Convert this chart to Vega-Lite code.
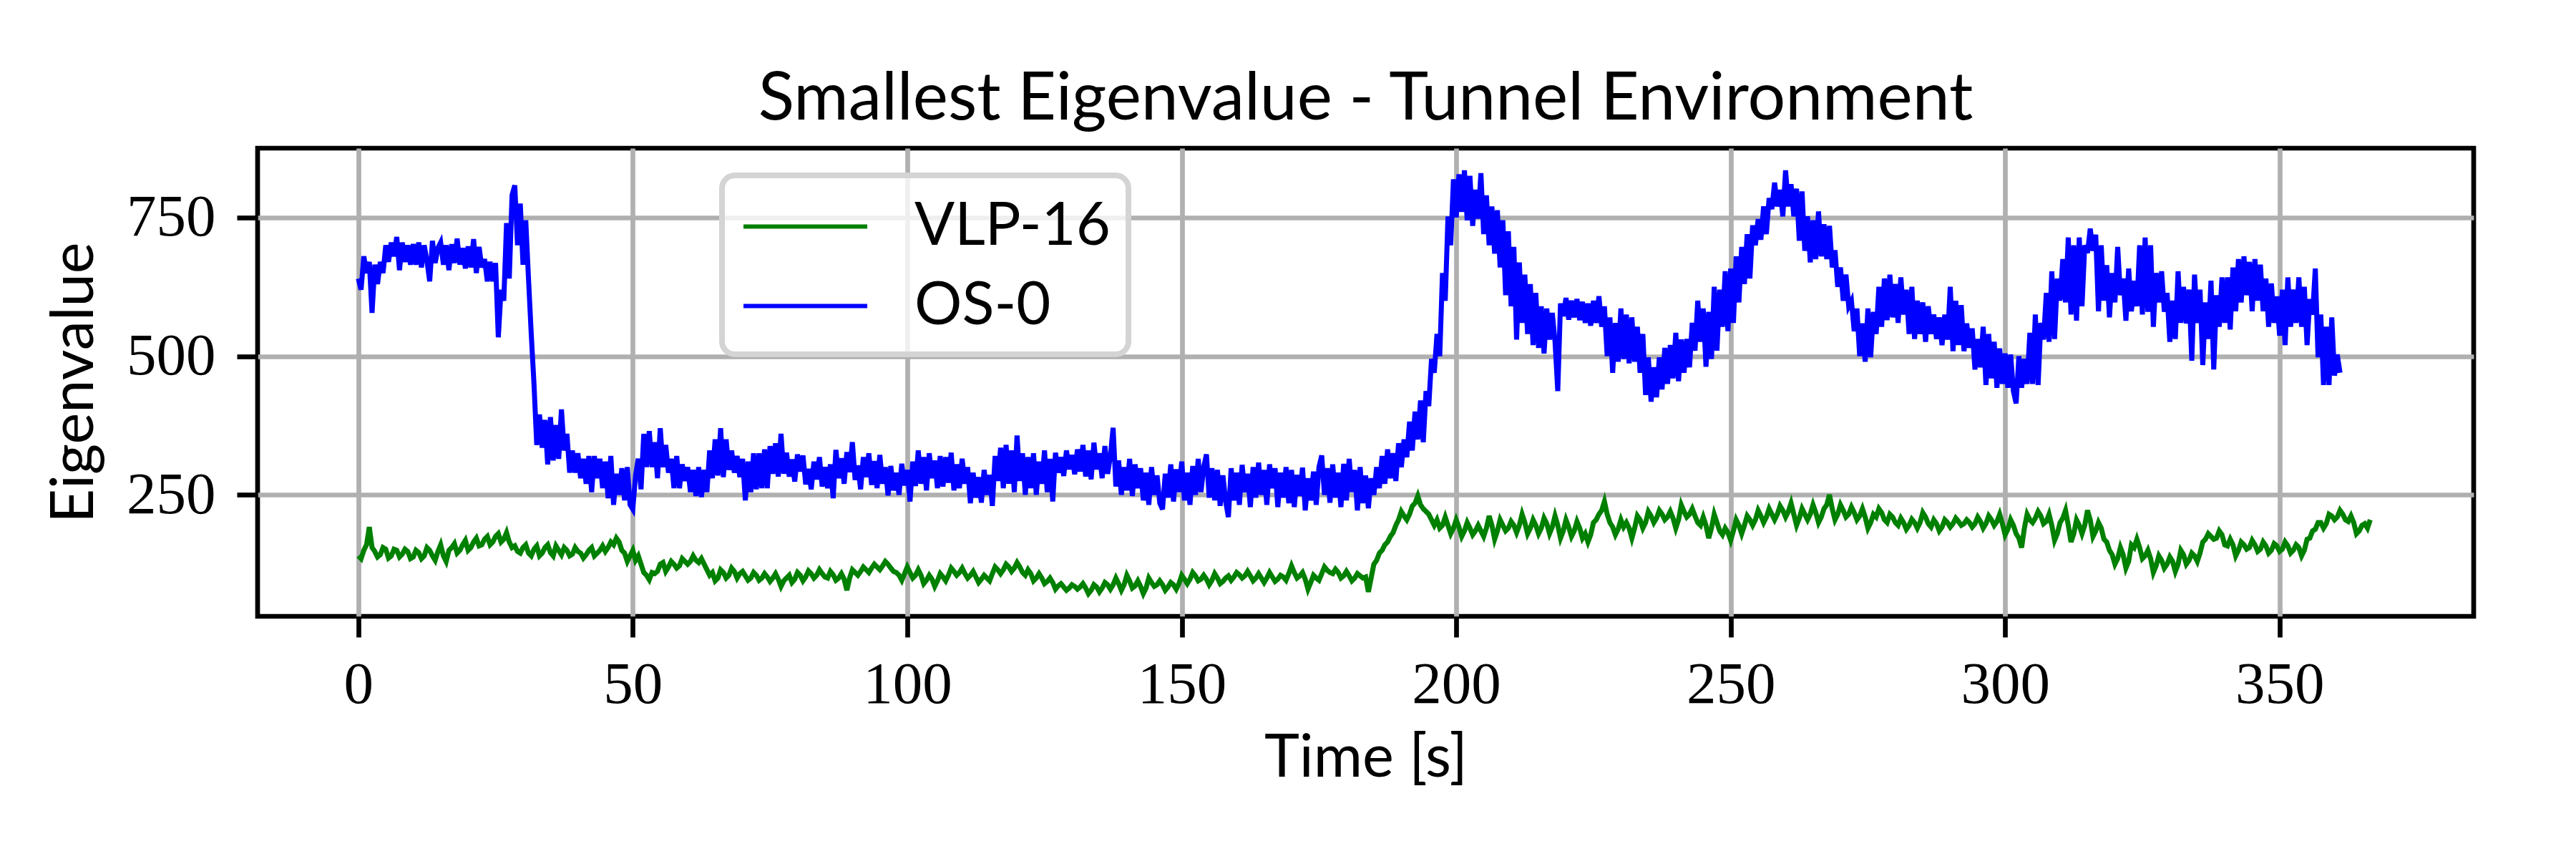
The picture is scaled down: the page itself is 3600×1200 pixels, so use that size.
{
"$schema":"https://vega.github.io/schema/vega-lite/v6.json",
"width":3097,"height":654,
"autosize":{"type":"none"},
"padding":{"left":360,"top":207,"right":143,"bottom":339},
"background":"white",
"config":{"view":{"stroke":"black","strokeWidth":6.7},"legend":{"strokeWidth":8}},
"title":{"text":"Smallest Eigenvalue - Tunnel Environment","font":"Lato","fontSize":93,"fontWeight":"normal","color":"black","anchor":"middle","frame":"group","baseline":"alphabetic","offset":-53},
"data":{"values":[
{"t":0,"b":640,"g":140},{"t":0.5,"b":620,"g":135},{"t":1,"b":680,"g":150},{"t":1.5,"b":650,"g":160},{"t":2,"b":670,"g":192},{"t":2.5,"b":578,"g":155},{"t":3,"b":665,"g":148},{"t":3.5,"b":630,"g":138},{"t":4,"b":670,"g":142},{"t":4.5,"b":650,"g":155},{"t":5,"b":700,"g":152},{"t":5.5,"b":670,"g":136},{"t":6,"b":705,"g":140},{"t":6.5,"b":680,"g":152},{"t":7,"b":715,"g":150},{"t":7.5,"b":655,"g":138},{"t":8,"b":705,"g":143},{"t":8.5,"b":670,"g":152},{"t":9,"b":700,"g":148},{"t":9.5,"b":665,"g":135},
{"t":10,"b":702,"g":138},{"t":10.5,"b":665,"g":150},{"t":11,"b":705,"g":146},{"t":11.5,"b":660,"g":135},{"t":12,"b":700,"g":140},{"t":12.5,"b":672,"g":155},{"t":13,"b":635,"g":150},{"t":13.5,"b":708,"g":140},{"t":14,"b":668,"g":132},{"t":14.5,"b":695,"g":148},{"t":15,"b":705,"g":160},{"t":15.5,"b":665,"g":140},{"t":16,"b":700,"g":130},{"t":16.5,"b":655,"g":150},{"t":17,"b":702,"g":155},{"t":17.5,"b":668,"g":162},{"t":18,"b":712,"g":145},{"t":18.5,"b":665,"g":150},{"t":19,"b":695,"g":160},{"t":19.5,"b":658,"g":168},
{"t":20,"b":698,"g":150},{"t":20.5,"b":660,"g":155},{"t":21,"b":711,"g":165},{"t":21.5,"b":650,"g":172},{"t":22,"b":697,"g":158},{"t":22.5,"b":660,"g":160},{"t":23,"b":675,"g":170},{"t":23.5,"b":635,"g":175},{"t":24,"b":670,"g":160},{"t":24.5,"b":635,"g":165},{"t":25,"b":668,"g":175},{"t":25.5,"b":534,"g":180},{"t":26,"b":620,"g":165},{"t":26.5,"b":600,"g":170},{"t":27,"b":740,"g":182},{"t":27.5,"b":640,"g":165},{"t":28,"b":790,"g":155},{"t":28.5,"b":808,"g":158},{"t":29,"b":700,"g":148},{"t":29.5,"b":775,"g":145},
{"t":30,"b":665,"g":155},{"t":30.5,"b":745,"g":160},{"t":31,"b":640,"g":145},{"t":31.5,"b":540,"g":140},{"t":32,"b":450,"g":152},{"t":32.5,"b":340,"g":158},{"t":33,"b":395,"g":140},{"t":33.5,"b":335,"g":145},{"t":34,"b":385,"g":155},{"t":34.5,"b":305,"g":160},{"t":35,"b":390,"g":146},{"t":35.5,"b":312,"g":140},{"t":36,"b":376,"g":158},{"t":36.5,"b":315,"g":150},{"t":37,"b":404,"g":142},{"t":37.5,"b":330,"g":155},{"t":38,"b":360,"g":150},{"t":38.5,"b":290,"g":140},{"t":39,"b":330,"g":143},{"t":39.5,"b":290,"g":155},
{"t":40,"b":325,"g":148},{"t":40.5,"b":280,"g":145},{"t":41,"b":315,"g":136},{"t":41.5,"b":270,"g":142},{"t":42,"b":320,"g":150},{"t":42.5,"b":255,"g":155},{"t":43,"b":320,"g":140},{"t":43.5,"b":280,"g":145},{"t":44,"b":315,"g":150},{"t":44.5,"b":262,"g":158},{"t":45,"b":310,"g":148},{"t":45.5,"b":244,"g":155},{"t":46,"b":320,"g":165},{"t":46.5,"b":232,"g":160},{"t":47,"b":288,"g":172},{"t":47.5,"b":250,"g":165},{"t":48,"b":298,"g":150},{"t":48.5,"b":240,"g":145},{"t":49,"b":300,"g":130},{"t":49.5,"b":232,"g":140},
{"t":50,"b":224,"g":150},{"t":50.5,"b":285,"g":132},{"t":51,"b":315,"g":140},{"t":51.5,"b":260,"g":125},{"t":52,"b":360,"g":110},{"t":52.5,"b":300,"g":105},{"t":53,"b":365,"g":97},{"t":53.5,"b":300,"g":110},{"t":54,"b":345,"g":108},{"t":54.5,"b":280,"g":112},{"t":55,"b":370,"g":125},{"t":55.5,"b":300,"g":128},{"t":56,"b":340,"g":112},{"t":56.5,"b":290,"g":120},{"t":57,"b":315,"g":130},{"t":57.5,"b":262,"g":125},{"t":58,"b":320,"g":118},{"t":58.5,"b":262,"g":122},{"t":59,"b":305,"g":135},{"t":59.5,"b":275,"g":130},
{"t":60,"b":300,"g":125},{"t":60.5,"b":255,"g":130},{"t":61,"b":295,"g":140},{"t":61.5,"b":248,"g":132},{"t":62,"b":300,"g":128},{"t":62.5,"b":246,"g":135},{"t":63,"b":295,"g":125},{"t":63.5,"b":255,"g":115},{"t":64,"b":330,"g":105},{"t":64.5,"b":280,"g":110},{"t":65,"b":350,"g":95},{"t":65.5,"b":285,"g":100},{"t":66,"b":370,"g":115},{"t":66.5,"b":282,"g":110},{"t":67,"b":350,"g":100},{"t":67.5,"b":295,"g":105},{"t":68,"b":330,"g":118},{"t":68.5,"b":290,"g":112},{"t":69,"b":320,"g":100},{"t":69.5,"b":282,"g":108},
{"t":70,"b":315,"g":112},{"t":70.5,"b":240,"g":104},{"t":71,"b":310,"g":96},{"t":71.5,"b":255,"g":100},{"t":72,"b":325,"g":110},{"t":72.5,"b":260,"g":105},{"t":73,"b":325,"g":96},{"t":73.5,"b":262,"g":100},{"t":74,"b":332,"g":108},{"t":74.5,"b":262,"g":102},{"t":75,"b":338,"g":94},{"t":75.5,"b":288,"g":100},{"t":76,"b":343,"g":108},{"t":76.5,"b":283,"g":98},{"t":77,"b":360,"g":85},{"t":77.5,"b":288,"g":95},{"t":78,"b":326,"g":100},{"t":78.5,"b":283,"g":105},{"t":79,"b":314,"g":92},{"t":79.5,"b":274,"g":98},
{"t":80,"b":323,"g":110},{"t":80.5,"b":292,"g":105},{"t":81,"b":321,"g":95},{"t":81.5,"b":269,"g":102},{"t":82,"b":297,"g":113},{"t":82.5,"b":260,"g":108},{"t":83,"b":310,"g":100},{"t":83.5,"b":278,"g":105},{"t":84,"b":318,"g":115},{"t":84.5,"b":265,"g":108},{"t":85,"b":300,"g":102},{"t":85.5,"b":262,"g":100},{"t":86,"b":305,"g":112},{"t":86.5,"b":244,"g":106},{"t":87,"b":331,"g":96},{"t":87.5,"b":280,"g":100},{"t":88,"b":316,"g":108},{"t":88.5,"b":270,"g":98},{"t":89,"b":327,"g":78},{"t":89.5,"b":291,"g":100},
{"t":90,"b":345,"g":115},{"t":90.5,"b":277,"g":110},{"t":91,"b":303,"g":105},{"t":91.5,"b":260,"g":112},{"t":92,"b":318,"g":120},{"t":92.5,"b":282,"g":115},{"t":93,"b":325,"g":110},{"t":93.5,"b":268,"g":118},{"t":94,"b":311,"g":125},{"t":94.5,"b":262,"g":120},{"t":95,"b":322,"g":115},{"t":95.5,"b":270,"g":122},{"t":96,"b":300,"g":130},{"t":96.5,"b":249,"g":125},{"t":97,"b":302,"g":118},{"t":97.5,"b":258,"g":112},{"t":98,"b":290,"g":110},{"t":98.5,"b":250,"g":105},{"t":99,"b":306,"g":96},{"t":99.5,"b":267,"g":108},
{"t":100,"b":295,"g":120},{"t":100.5,"b":238,"g":110},{"t":101,"b":310,"g":100},{"t":101.5,"b":266,"g":105},{"t":102,"b":330,"g":115},{"t":102.5,"b":270,"g":105},{"t":103,"b":318,"g":90},{"t":103.5,"b":258,"g":96},{"t":104,"b":325,"g":105},{"t":104.5,"b":280,"g":98},{"t":105,"b":312,"g":85},{"t":105.5,"b":262,"g":95},{"t":106,"b":320,"g":108},{"t":106.5,"b":265,"g":102},{"t":107,"b":318,"g":95},{"t":107.5,"b":272,"g":105},{"t":108,"b":326,"g":118},{"t":108.5,"b":258,"g":112},{"t":109,"b":305,"g":105},{"t":109.5,"b":262,"g":110},
{"t":110,"b":315,"g":118},{"t":110.5,"b":270,"g":108},{"t":111,"b":300,"g":100},{"t":111.5,"b":235,"g":105},{"t":112,"b":290,"g":112},{"t":112.5,"b":245,"g":102},{"t":113,"b":282,"g":92},{"t":113.5,"b":236,"g":98},{"t":114,"b":295,"g":105},{"t":114.5,"b":250,"g":100},{"t":115,"b":286,"g":95},{"t":115.5,"b":230,"g":108},{"t":116,"b":320,"g":120},{"t":116.5,"b":275,"g":115},{"t":117,"b":335,"g":108},{"t":117.5,"b":262,"g":115},{"t":118,"b":340,"g":125},{"t":118.5,"b":270,"g":120},{"t":119,"b":330,"g":112},{"t":119.5,"b":255,"g":118},
{"t":120,"b":357,"g":128},{"t":120.5,"b":275,"g":120},{"t":121,"b":325,"g":110},{"t":121.5,"b":250,"g":105},{"t":122,"b":318,"g":115},{"t":122.5,"b":262,"g":108},{"t":123,"b":325,"g":95},{"t":123.5,"b":250,"g":100},{"t":124,"b":310,"g":108},{"t":124.5,"b":270,"g":100},{"t":125,"b":330,"g":90},{"t":125.5,"b":255,"g":94},{"t":126,"b":315,"g":100},{"t":126.5,"b":238,"g":92},{"t":127,"b":326,"g":80},{"t":127.5,"b":290,"g":86},{"t":128,"b":318,"g":90},{"t":128.5,"b":284,"g":84},{"t":129,"b":330,"g":78},{"t":129.5,"b":296,"g":82},
{"t":130,"b":322,"g":88},{"t":130.5,"b":287,"g":85},{"t":131,"b":332,"g":80},{"t":131.5,"b":292,"g":84},{"t":132,"b":340,"g":90},{"t":132.5,"b":283,"g":82},{"t":133,"b":330,"g":72},{"t":133.5,"b":278,"g":78},{"t":134,"b":344,"g":88},{"t":134.5,"b":296,"g":84},{"t":135,"b":325,"g":75},{"t":135.5,"b":280,"g":82},{"t":136,"b":338,"g":92},{"t":136.5,"b":288,"g":88},{"t":137,"b":320,"g":80},{"t":137.5,"b":371,"g":88},{"t":138,"b":265,"g":100},{"t":138.5,"b":312,"g":90},{"t":139,"b":250,"g":78},{"t":139.5,"b":300,"g":88},
{"t":140,"b":258,"g":105},{"t":140.5,"b":315,"g":95},{"t":141,"b":248,"g":82},{"t":141.5,"b":305,"g":86},{"t":142,"b":262,"g":95},{"t":142.5,"b":298,"g":85},{"t":143,"b":240,"g":72},{"t":143.5,"b":290,"g":82},{"t":144,"b":232,"g":100},{"t":144.5,"b":300,"g":92},{"t":145,"b":250,"g":85},{"t":145.5,"b":285,"g":88},{"t":146,"b":235,"g":95},{"t":146.5,"b":224,"g":88},{"t":147,"b":288,"g":78},{"t":147.5,"b":245,"g":84},{"t":148,"b":305,"g":92},{"t":148.5,"b":238,"g":88},{"t":149,"b":296,"g":80},{"t":149.5,"b":255,"g":90},
{"t":150,"b":310,"g":105},{"t":150.5,"b":240,"g":98},{"t":151,"b":290,"g":90},{"t":151.5,"b":232,"g":98},{"t":152,"b":302,"g":110},{"t":152.5,"b":250,"g":104},{"t":153,"b":315,"g":95},{"t":153.5,"b":255,"g":98},{"t":154,"b":300,"g":105},{"t":154.5,"b":323,"g":98},{"t":155,"b":245,"g":88},{"t":155.5,"b":298,"g":96},{"t":156,"b":240,"g":108},{"t":156.5,"b":295,"g":100},{"t":157,"b":230,"g":90},{"t":157.5,"b":285,"g":94},{"t":158,"b":238,"g":100},{"t":158.5,"b":210,"g":104},{"t":159,"b":298,"g":96},{"t":159.5,"b":240,"g":102},
{"t":160,"b":290,"g":110},{"t":160.5,"b":232,"g":106},{"t":161,"b":304,"g":100},{"t":161.5,"b":255,"g":104},{"t":162,"b":288,"g":112},{"t":162.5,"b":228,"g":104},{"t":163,"b":300,"g":95},{"t":163.5,"b":245,"g":100},{"t":164,"b":308,"g":108},{"t":164.5,"b":250,"g":100},{"t":165,"b":295,"g":92},{"t":165.5,"b":232,"g":100},{"t":166,"b":305,"g":110},{"t":166.5,"b":262,"g":102},{"t":167,"b":298,"g":94},{"t":167.5,"b":228,"g":98},{"t":168,"b":290,"g":105},{"t":168.5,"b":245,"g":102},{"t":169,"b":300,"g":96},{"t":169.5,"b":235,"g":108},
{"t":170,"b":295,"g":122},{"t":170.5,"b":228,"g":110},{"t":171,"b":286,"g":100},{"t":171.5,"b":248,"g":104},{"t":172,"b":299,"g":110},{"t":172.5,"b":222,"g":98},{"t":173,"b":280,"g":80},{"t":173.5,"b":240,"g":92},{"t":174,"b":292,"g":105},{"t":174.5,"b":232,"g":100},{"t":175,"b":300,"g":96},{"t":175.5,"b":321,"g":108},{"t":176,"b":250,"g":120},{"t":176.5,"b":298,"g":114},{"t":177,"b":236,"g":110},{"t":177.5,"b":305,"g":108},{"t":178,"b":245,"g":116},{"t":178.5,"b":290,"g":110},{"t":179,"b":228,"g":100},{"t":179.5,"b":306,"g":104},
{"t":180,"b":240,"g":112},{"t":180.5,"b":315,"g":104},{"t":181,"b":255,"g":95},{"t":181.5,"b":295,"g":100},{"t":182,"b":222,"g":108},{"t":182.5,"b":300,"g":104},{"t":183,"b":235,"g":100},{"t":183.5,"b":285,"g":102},{"t":184,"b":226,"g":75},{"t":184.5,"b":280,"g":100},{"t":185,"b":250,"g":125},{"t":185.5,"b":300,"g":132},{"t":186,"b":262,"g":145},{"t":186.5,"b":320,"g":150},{"t":187,"b":270,"g":160},{"t":187.5,"b":332,"g":165},{"t":188,"b":280,"g":175},{"t":188.5,"b":325,"g":182},{"t":189,"b":275,"g":195},{"t":189.5,"b":343,"g":205},
{"t":190,"b":300,"g":220},{"t":190.5,"b":350,"g":212},{"t":191,"b":318,"g":205},{"t":191.5,"b":382,"g":215},{"t":192,"b":330,"g":230},{"t":192.5,"b":400,"g":235},{"t":193,"b":350,"g":248},{"t":193.5,"b":420,"g":232},{"t":194,"b":345,"g":225},{"t":194.5,"b":437,"g":220},{"t":195,"b":410,"g":215},{"t":195.5,"b":495,"g":205},{"t":196,"b":470,"g":195},{"t":196.5,"b":540,"g":205},{"t":197,"b":500,"g":190},{"t":197.5,"b":650,"g":195},{"t":198,"b":600,"g":210},{"t":198.5,"b":752,"g":195},{"t":199,"b":700,"g":180},{"t":199.5,"b":819,"g":190},
{"t":200,"b":750,"g":205},{"t":200.5,"b":828,"g":192},{"t":201,"b":760,"g":175},{"t":201.5,"b":835,"g":185},{"t":202,"b":745,"g":200},{"t":202.5,"b":825,"g":190},{"t":203,"b":735,"g":178},{"t":203.5,"b":800,"g":185},{"t":204,"b":748,"g":195},{"t":204.5,"b":830,"g":185},{"t":205,"b":720,"g":175},{"t":205.5,"b":790,"g":190},{"t":206,"b":700,"g":212},{"t":206.5,"b":770,"g":195},{"t":207,"b":685,"g":170},{"t":207.5,"b":763,"g":185},{"t":208,"b":660,"g":205},{"t":208.5,"b":745,"g":195},{"t":209,"b":610,"g":185},{"t":209.5,"b":725,"g":190},
{"t":210,"b":590,"g":202},{"t":210.5,"b":697,"g":195},{"t":211,"b":530,"g":182},{"t":211.5,"b":669,"g":195},{"t":212,"b":560,"g":215},{"t":212.5,"b":647,"g":200},{"t":213,"b":540,"g":180},{"t":213.5,"b":630,"g":190},{"t":214,"b":520,"g":205},{"t":214.5,"b":614,"g":195},{"t":215,"b":515,"g":180},{"t":215.5,"b":590,"g":190},{"t":216,"b":505,"g":208},{"t":216.5,"b":586,"g":198},{"t":217,"b":530,"g":180},{"t":217.5,"b":578,"g":192},{"t":218,"b":526,"g":212},{"t":218.5,"b":437,"g":195},{"t":219,"b":595,"g":172},{"t":219.5,"b":572,"g":185},
{"t":220,"b":605,"g":205},{"t":220.5,"b":566,"g":192},{"t":221,"b":600,"g":175},{"t":221.5,"b":570,"g":185},{"t":222,"b":603,"g":202},{"t":222.5,"b":565,"g":190},{"t":223,"b":598,"g":172},{"t":223.5,"b":560,"g":180},{"t":224,"b":595,"g":165},{"t":224.5,"b":555,"g":178},{"t":225,"b":600,"g":200},{"t":225.5,"b":560,"g":205},{"t":226,"b":608,"g":215},{"t":226.5,"b":553,"g":222},{"t":227,"b":590,"g":238},{"t":227.5,"b":500,"g":215},{"t":228,"b":570,"g":200},{"t":228.5,"b":470,"g":192},{"t":229,"b":560,"g":178},{"t":229.5,"b":490,"g":188},
{"t":230,"b":586,"g":205},{"t":230.5,"b":495,"g":192},{"t":231,"b":575,"g":200},{"t":231.5,"b":487,"g":190},{"t":232,"b":570,"g":172},{"t":232.5,"b":490,"g":190},{"t":233,"b":553,"g":212},{"t":233.5,"b":470,"g":205},{"t":234,"b":540,"g":190},{"t":234.5,"b":430,"g":200},{"t":235,"b":498,"g":220},{"t":235.5,"b":418,"g":212},{"t":236,"b":480,"g":200},{"t":236.5,"b":426,"g":208},{"t":237,"b":498,"g":222},{"t":237.5,"b":440,"g":215},{"t":238,"b":515,"g":205},{"t":238.5,"b":450,"g":210},{"t":239,"b":520,"g":220},{"t":239.5,"b":460,"g":208},
{"t":240,"b":542,"g":190},{"t":240.5,"b":455,"g":205},{"t":241,"b":530,"g":232},{"t":241.5,"b":470,"g":220},{"t":242,"b":531,"g":210},{"t":242.5,"b":480,"g":215},{"t":243,"b":560,"g":225},{"t":243.5,"b":510,"g":212},{"t":244,"b":600,"g":200},{"t":244.5,"b":526,"g":195},{"t":245,"b":586,"g":210},{"t":245.5,"b":481,"g":195},{"t":246,"b":580,"g":172},{"t":246.5,"b":495,"g":190},{"t":247,"b":625,"g":215},{"t":247.5,"b":510,"g":200},{"t":248,"b":620,"g":185},{"t":248.5,"b":553,"g":178},{"t":249,"b":653,"g":190},{"t":249.5,"b":545,"g":182},
{"t":250,"b":658,"g":168},{"t":250.5,"b":560,"g":185},{"t":251,"b":680,"g":205},{"t":251.5,"b":597,"g":195},{"t":252,"b":697,"g":180},{"t":252.5,"b":630,"g":195},{"t":253,"b":720,"g":212},{"t":253.5,"b":640,"g":205},{"t":254,"b":736,"g":195},{"t":254.5,"b":700,"g":205},{"t":255,"b":747,"g":222},{"t":255.5,"b":710,"g":212},{"t":256,"b":770,"g":200},{"t":256.5,"b":720,"g":210},{"t":257,"b":785,"g":225},{"t":257.5,"b":765,"g":215},{"t":258,"b":813,"g":205},{"t":258.5,"b":770,"g":215},{"t":259,"b":800,"g":230},{"t":259.5,"b":752,"g":222},
{"t":260,"b":835,"g":210},{"t":260.5,"b":770,"g":220},{"t":261,"b":810,"g":235},{"t":261.5,"b":752,"g":215},{"t":262,"b":802,"g":195},{"t":262.5,"b":708,"g":208},{"t":263,"b":797,"g":225},{"t":263.5,"b":690,"g":215},{"t":264,"b":752,"g":205},{"t":264.5,"b":669,"g":215},{"t":265,"b":745,"g":232},{"t":265.5,"b":675,"g":218},{"t":266,"b":761,"g":200},{"t":266.5,"b":680,"g":210},{"t":267,"b":738,"g":225},{"t":267.5,"b":675,"g":232},{"t":268,"b":735,"g":250},{"t":268.5,"b":660,"g":225},{"t":269,"b":691,"g":205},{"t":269.5,"b":625,"g":215},
{"t":270,"b":660,"g":232},{"t":270.5,"b":600,"g":222},{"t":271,"b":647,"g":210},{"t":271.5,"b":590,"g":215},{"t":272,"b":600,"g":228},{"t":272.5,"b":545,"g":218},{"t":273,"b":586,"g":205},{"t":273.5,"b":500,"g":212},{"t":274,"b":559,"g":225},{"t":274.5,"b":490,"g":210},{"t":275,"b":586,"g":190},{"t":275.5,"b":498,"g":200},{"t":276,"b":580,"g":215},{"t":276.5,"b":540,"g":210},{"t":277,"b":625,"g":225},{"t":277.5,"b":553,"g":218},{"t":278,"b":640,"g":205},{"t":278.5,"b":565,"g":200},{"t":279,"b":647,"g":215},{"t":279.5,"b":570,"g":210},
{"t":280,"b":630,"g":200},{"t":280.5,"b":560,"g":195},{"t":281,"b":642,"g":208},{"t":281.5,"b":575,"g":200},{"t":282,"b":620,"g":188},{"t":282.5,"b":540,"g":195},{"t":283,"b":625,"g":206},{"t":283.5,"b":531,"g":200},{"t":284,"b":600,"g":190},{"t":284.5,"b":540,"g":200},{"t":285,"b":597,"g":218},{"t":285.5,"b":526,"g":210},{"t":286,"b":590,"g":198},{"t":286.5,"b":540,"g":192},{"t":287,"b":575,"g":205},{"t":287.5,"b":531,"g":198},{"t":288,"b":570,"g":185},{"t":288.5,"b":520,"g":192},{"t":289,"b":575,"g":205},{"t":289.5,"b":530,"g":200},
{"t":290,"b":625,"g":192},{"t":290.5,"b":509,"g":198},{"t":291,"b":600,"g":208},{"t":291.5,"b":520,"g":202},{"t":292,"b":592,"g":195},{"t":292.5,"b":509,"g":198},{"t":293,"b":559,"g":205},{"t":293.5,"b":515,"g":200},{"t":294,"b":550,"g":192},{"t":294.5,"b":476,"g":198},{"t":295,"b":531,"g":210},{"t":295.5,"b":480,"g":202},{"t":296,"b":553,"g":190},{"t":296.5,"b":448,"g":198},{"t":297,"b":540,"g":212},{"t":297.5,"b":460,"g":205},{"t":298,"b":526,"g":195},{"t":298.5,"b":443,"g":202},{"t":299,"b":514,"g":215},{"t":299.5,"b":450,"g":198},
{"t":300,"b":505,"g":178},{"t":300.5,"b":443,"g":188},{"t":301,"b":503,"g":205},{"t":301.5,"b":437,"g":195},{"t":302,"b":415,"g":180},{"t":302.5,"b":500,"g":172},{"t":303,"b":443,"g":155},{"t":303.5,"b":495,"g":190},{"t":304,"b":450,"g":215},{"t":304.5,"b":542,"g":205},{"t":305,"b":450,"g":200},{"t":305.5,"b":575,"g":208},{"t":306,"b":448,"g":220},{"t":306.5,"b":560,"g":212},{"t":307,"b":530,"g":198},{"t":307.5,"b":614,"g":202},{"t":308,"b":526,"g":215},{"t":308.5,"b":653,"g":195},{"t":309,"b":531,"g":168},{"t":309.5,"b":640,"g":180},
{"t":310,"b":600,"g":200},{"t":310.5,"b":675,"g":208},{"t":311,"b":597,"g":222},{"t":311.5,"b":714,"g":195},{"t":312,"b":575,"g":165},{"t":312.5,"b":700,"g":180},{"t":313,"b":564,"g":205},{"t":313.5,"b":714,"g":195},{"t":314,"b":590,"g":180},{"t":314.5,"b":700,"g":195},{"t":315,"b":686,"g":222},{"t":315.5,"b":730,"g":205},{"t":316,"b":690,"g":175},{"t":316.5,"b":719,"g":185},{"t":317,"b":581,"g":200},{"t":317.5,"b":700,"g":190},{"t":318,"b":600,"g":170},{"t":318.5,"b":664,"g":165},{"t":319,"b":570,"g":150},{"t":319.5,"b":650,"g":142},
{"t":320,"b":597,"g":125},{"t":320.5,"b":697,"g":135},{"t":321,"b":610,"g":155},{"t":321.5,"b":640,"g":142},{"t":322,"b":564,"g":118},{"t":322.5,"b":658,"g":130},{"t":323,"b":581,"g":160},{"t":323.5,"b":636,"g":155},{"t":324,"b":590,"g":170},{"t":324.5,"b":700,"g":155},{"t":325,"b":575,"g":135},{"t":325.5,"b":714,"g":140},{"t":326,"b":580,"g":150},{"t":326.5,"b":700,"g":135},{"t":327,"b":553,"g":110},{"t":327.5,"b":650,"g":122},{"t":328,"b":597,"g":140},{"t":328.5,"b":653,"g":132},{"t":329,"b":580,"g":118},{"t":329.5,"b":614,"g":125},
{"t":330,"b":526,"g":138},{"t":330.5,"b":600,"g":130},{"t":331,"b":531,"g":112},{"t":331.5,"b":653,"g":125},{"t":332,"b":560,"g":150},{"t":332.5,"b":625,"g":142},{"t":333,"b":559,"g":125},{"t":333.5,"b":620,"g":132},{"t":334,"b":492,"g":145},{"t":334.5,"b":647,"g":140},{"t":335,"b":560,"g":130},{"t":335.5,"b":620,"g":145},{"t":336,"b":484,"g":165},{"t":336.5,"b":597,"g":170},{"t":337,"b":531,"g":180},{"t":337.5,"b":636,"g":175},{"t":338,"b":476,"g":170},{"t":338.5,"b":610,"g":172},{"t":339,"b":553,"g":185},{"t":339.5,"b":642,"g":178},
{"t":340,"b":560,"g":160},{"t":340.5,"b":642,"g":158},{"t":341,"b":548,"g":170},{"t":341.5,"b":660,"g":160},{"t":342,"b":581,"g":140},{"t":342.5,"b":675,"g":150},{"t":343,"b":597,"g":165},{"t":343.5,"b":680,"g":160},{"t":344,"b":610,"g":152},{"t":344.5,"b":670,"g":155},{"t":345,"b":581,"g":168},{"t":345.5,"b":675,"g":160},{"t":346,"b":600,"g":148},{"t":346.5,"b":665,"g":152},{"t":347,"b":581,"g":165},{"t":347.5,"b":640,"g":158},{"t":348,"b":553,"g":145},{"t":348.5,"b":631,"g":150},{"t":349,"b":560,"g":162},{"t":349.5,"b":608,"g":158},
{"t":350,"b":537,"g":148},{"t":350.5,"b":620,"g":152},{"t":351,"b":520,"g":165},{"t":351.5,"b":642,"g":158},{"t":352,"b":553,"g":145},{"t":352.5,"b":620,"g":150},{"t":353,"b":560,"g":160},{"t":353.5,"b":642,"g":155},{"t":354,"b":553,"g":140},{"t":354.5,"b":625,"g":150},{"t":355,"b":520,"g":170},{"t":355.5,"b":603,"g":172},{"t":356,"b":575,"g":185},{"t":356.5,"b":658,"g":188},{"t":357,"b":498,"g":200},{"t":357.5,"b":575,"g":200},{"t":358,"b":448,"g":190},{"t":358.5,"b":553,"g":198},{"t":359,"b":448,"g":215},{"t":359.5,"b":570,"g":212},
{"t":360,"b":465,"g":205},{"t":360.5,"b":503,"g":210},{"t":361,"b":470,"g":222},{"t":361.5,"g":215},{"t":362,"g":205},{"t":362.5,"g":202},{"t":363,"g":212},{"t":363.5,"g":200},{"t":364,"g":180},{"t":364.5,"g":185},{"t":365,"g":195},{"t":365.5,"g":198},{"t":366,"g":190},{"t":366.5,"g":205}
]},
"transform":[{"fold":["g","b"],"as":["s","v"]},{"filter":"isValid(datum.v)"}],
"mark":{"type":"line","strokeWidth":7,"invalid":"filter"},
"encoding":{
"x":{"field":"t","type":"quantitative","scale":{"domain":[-18.35,385.35],"nice":false,"zero":false},
"axis":{"values":[0,50,100,150,200,250,300,350],"format":"d","grid":true,"gridColor":"#b0b0b0","gridWidth":6.7,"domain":false,"tickColor":"black","tickWidth":6.7,"tickSize":29,"labelFont":"Liberation Serif","labelFontSize":83,"labelColor":"black","labelPadding":25,"title":"Time [s]","titleFont":"Lato","titleFontSize":83,"titleFontWeight":"normal","titleColor":"black","titlePadding":20}},
"y":{"field":"v","type":"quantitative","scale":{"domain":[31,875],"nice":false,"zero":false},
"axis":{"values":[250,500,750],"format":"d","grid":true,"gridColor":"#b0b0b0","gridWidth":6.7,"domain":false,"tickColor":"black","tickWidth":6.7,"tickSize":29,"labelFont":"Liberation Serif","labelFontSize":83,"labelColor":"black","labelPadding":30,"title":"Eigenvalue","titleFont":"Lato","titleFontSize":83,"titleFontWeight":"normal","titleColor":"black","titlePadding":30}},
"color":{"field":"s","type":"nominal","scale":{"domain":["g","b"],"range":["#008000","#0000ff"]},
"legend":{"orient":"none","legendX":649,"legendY":38,"title":null,"symbolType":"M-2,0L2,0","symbolStrokeWidth":6,"symbolSize":7482,"symbolOffset":45,"labelFont":"Lato","labelFontSize":83,"labelColor":"black","labelOffset":106,"labelLimit":1000,"padding":25,"rowPadding":22,"strokeColor":"#d4d4d4","fillColor":"rgba(255,255,255,0.8)","cornerRadius":18,"labelExpr":"datum.label == 'g' ? 'VLP-16' : 'OS-0'"}}
}
}
